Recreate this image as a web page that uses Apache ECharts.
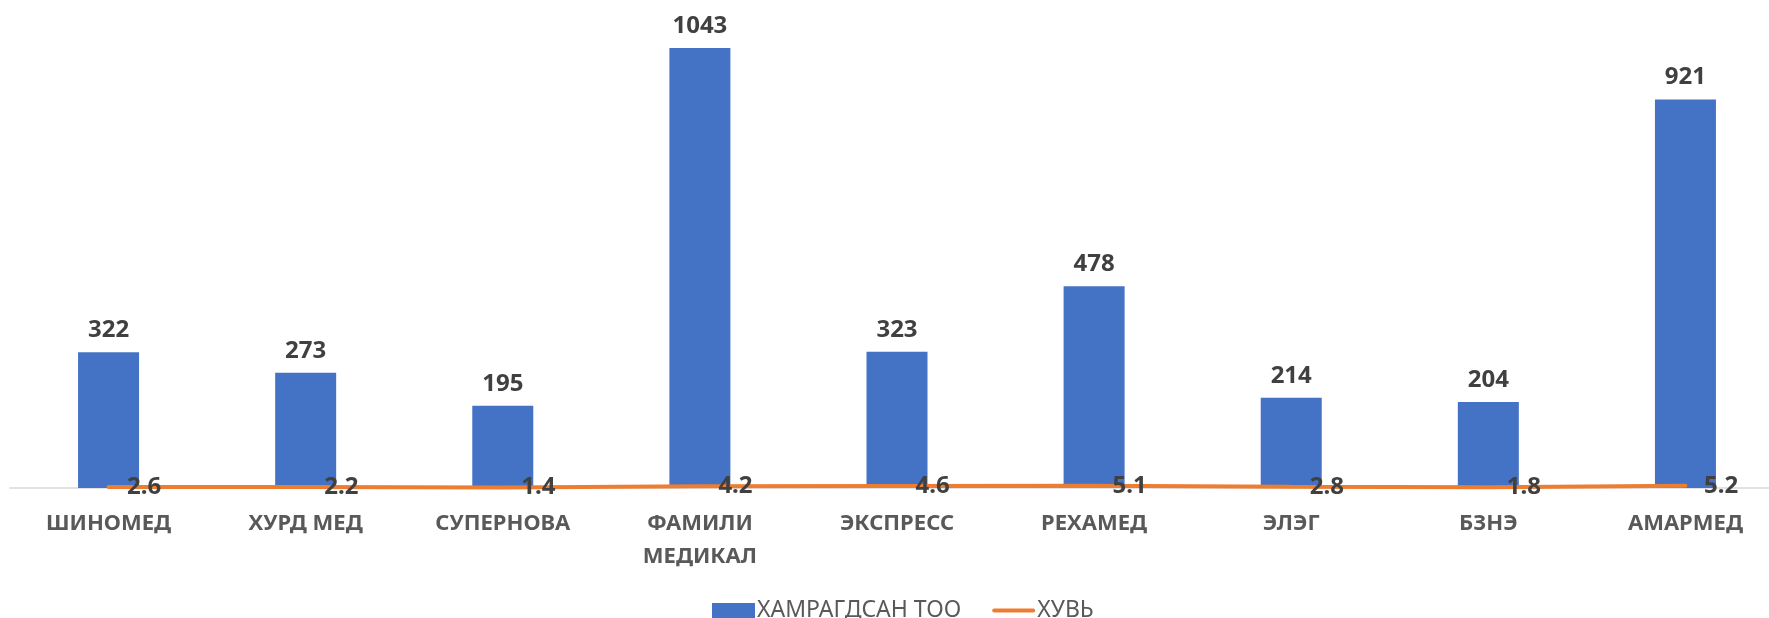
<!DOCTYPE html>
<html>
<head>
<meta charset="utf-8">
<script src="https://cdn.jsdelivr.net/npm/echarts@6/dist/echarts.min.js"></script>
<style>
html,body{margin:0;padding:0;background:#fff;overflow:hidden;}
#chart{width:1784px;height:618px;}
</style>
</head>
<body>
<div id="chart"></div>
<script>
const categories = ['ШИНОМЕД', 'ХУРД МЕД', 'СУПЕРНОВА', 'ФАМИЛИ\nМЕДИКАЛ', 'ЭКСПРЕСС', 'РЕХАМЕД', 'ЭЛЭГ', 'БЗНЭ', 'АМАРМЕД'];
const countValues = [322, 273, 195, 1043, 323, 478, 214, 204, 921];
const shareValues = [2.6, 2.2, 1.4, 4.2, 4.6, 5.1, 2.8, 1.8, 5.2];
const seriesNames = ['ХАМРАГДСАН ТОО', 'ХУВЬ'];

const FONT = '"Noto Sans", "DejaVu Sans", sans-serif';
const chart = echarts.init(document.getElementById('chart'), null, {renderer: 'canvas'});
chart.setOption({
  animation: false,
  backgroundColor: '#ffffff',
  textStyle: {fontFamily: FONT},
  grid: {left: 10, top: 24, right: 0, bottom: 130, containLabel: false},
  legend: {
    left: 707, top: 594,
    itemWidth: 43, itemHeight: 15, itemGap: 31,
    textStyle: {fontSize: 23, lineHeight: 23, color: '#595959', fontFamily: FONT, padding: [0, 0, 0, -3]},
    data: [
      {name: seriesNames[0], icon: 'rect'},
      {name: seriesNames[1], icon: 'path://M0,0 M45,15 M2,5.5 H43 A2,2 0 0 1 43,9.5 H2 A2,2 0 0 1 2,5.5 Z', itemStyle: {color: '#ED7D31'}}
    ]
  },
  xAxis: {
    type: 'category',
    data: categories,
    axisLine: {show: true, lineStyle: {color: '#d9d9d9', width: 1.5}},
    axisTick: {show: false},
    axisLabel: {
      interval: 0, margin: 19, fontSize: 22, fontWeight: 'bold', color: '#595959',
      lineHeight: 33, fontFamily: FONT
    }
  },
  yAxis: {
    type: 'value', min: 0, max: 1100,
    show: false, splitLine: {show: false}
  },
  series: [
    {
      name: seriesNames[0],
      type: 'bar',
      data: countValues,
      barWidth: 61,
      itemStyle: {color: '#4472C4'},
      label: {
        show: true, position: 'top', distance: 10,
        fontSize: 24, fontWeight: 'bold', color: '#404040', fontFamily: FONT
      }
    },
    {
      name: seriesNames[1],
      type: 'line',
      data: shareValues,
      symbol: 'circle',
      symbolSize: 1,
      showSymbol: true,
      z: 5,
      lineStyle: {color: '#ED7D31', width: 4, cap: 'round'},
      itemStyle: {color: 'rgba(237,125,49,0)'},
      labelLayout: {hideOverlap: false},
      label: {
        show: true, position: 'right', distance: 18, offset: [0, 3],
        fontSize: 24, fontWeight: 'bold', color: '#404040', fontFamily: FONT
      }
    }
  ]
});
</script>
</body>
</html>
